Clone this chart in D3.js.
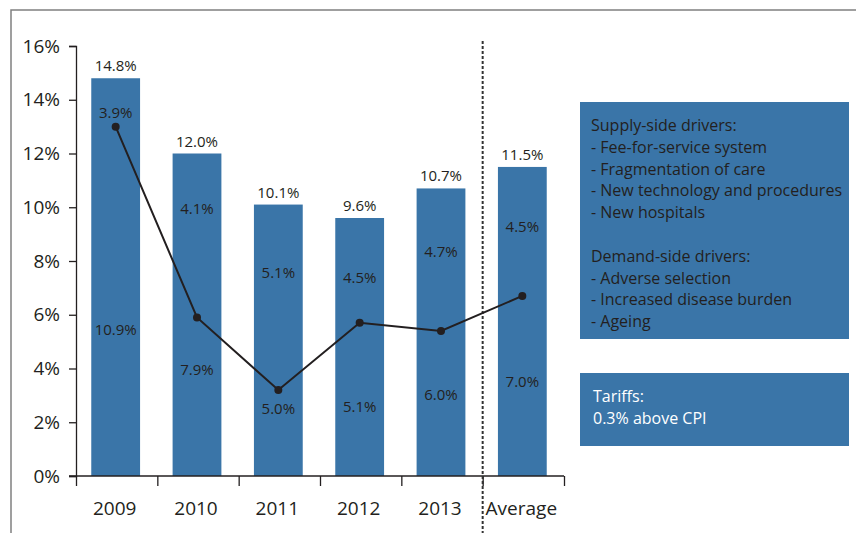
<!DOCTYPE html>
<html>
  <head>
    <meta charset="utf-8" />
    <style>
      body {
        margin: 0;
        background: #fff;
      }
      svg text {
        font-family: "Open Sans", sans-serif;
        fill: #231f20;
      }
    </style>
    <script src="https://d3js.org/d3.v7.min.js"></script>
  </head>
  <body>
    <div id="chart"></div>
    <script>
      // data
      var years = ["2009", "2010", "2011", "2012", "2013", "Average"];
      var baseValues = [10.9, 7.9, 5.0, 5.1, 6.0, 7.0];
      var topValues = [3.9, 4.1, 5.1, 4.5, 4.7, 4.5];
      var totals = [14.8, 12.0, 10.1, 9.6, 10.7, 11.5];
      var lineValues = [13.0, 5.9, 3.2, 5.7, 5.4, 6.7];
      var yTicks = [0, 2, 4, 6, 8, 10, 12, 14, 16];
      var supplyLines = [
        "Supply-side drivers:",
        "- Fee-for-service system",
        "- Fragmentation of care",
        "- New technology and procedures",
        "- New hospitals",
        "",
        "Demand-side drivers:",
        "- Adverse selection",
        "- Increased disease burden",
        "- Ageing",
      ];
      var tariffLines = ["Tariffs:", "0.3% above CPI"];

      var w = 856;
      var h = 533;
      var blue = "#3a75a8";
      var ink = "#231f20";

      var svg = d3
        .select("#chart")
        .append("svg")
        .attr("width", w)
        .attr("height", h);

      // frame lines (top + left)
      svg
        .append("path")
        .attr("d", "M11,533V10H856")
        .attr("fill", "none")
        .attr("stroke", "#808080")
        .attr("stroke-width", 1.5);

      var x = d3.scaleBand().domain(years).range([76, 564]).paddingInner(0.4).paddingOuter(0.2);
      var y = d3.scaleLinear().domain([0, 16]).range([476, 46]);
      var edges = d3.scaleLinear().domain([0, years.length]).range([76, 564]);

      // bars
      svg
        .selectAll("rect.bar")
        .data(years)
        .enter()
        .append("rect")
        .attr("class", "bar")
        .attr("x", function (d) { return x(d) - 1; })
        .attr("width", x.bandwidth())
        .attr("y", function (d, i) { return y(totals[i]); })
        .attr("height", function (d, i) { return y(0) - y(totals[i]); })
        .attr("fill", blue);

      // y axis
      var yAxis = svg
        .append("g")
        .attr("transform", "translate(76,0)")
        .call(
          d3.axisLeft(y)
            .tickValues(yTicks)
            .tickSize(7)
            .tickPadding(9)
            .tickFormat(function (d) { return d + "%"; })
        );
      yAxis.selectAll("path, line").attr("stroke", ink).attr("stroke-width", 1.3);
      yAxis.selectAll("text").attr("font-size", 19).attr("font-family", "Open Sans").attr("fill", ink);

      // x axis (ticks on the band edges)
      var xAxis = svg
        .append("g")
        .attr("transform", "translate(0,476)")
        .call(
          d3.axisBottom(edges)
            .tickValues(d3.range(years.length + 1))
            .tickSize(10)
            .tickSizeOuter(0)
            .tickFormat("")
        );
      xAxis.select(".domain").attr("d", "M69,0H564");
      xAxis.selectAll("path, line").attr("stroke", ink).attr("stroke-width", 1.3);

      svg
        .selectAll("text.cat")
        .data(years)
        .enter()
        .append("text")
        .attr("class", "cat")
        .attr("x", function (d, i) { return (edges(i) + edges(i + 1)) / 2 - 2; })
        .attr("y", 515)
        .attr("text-anchor", "middle")
        .attr("font-size", 19)
        .text(function (d) { return d; });

      // dotted divider before average
      svg
        .append("line")
        .attr("x1", edges(5))
        .attr("x2", edges(5))
        .attr("y1", 41)
        .attr("y2", 533)
        .attr("stroke", "#333")
        .attr("stroke-width", 2)
        .attr("stroke-dasharray", "3,2");

      // labels
      svg
        .selectAll("text.total")
        .data(years)
        .enter()
        .append("text")
        .attr("class", "total")
        .attr("x", function (d) { return x(d) - 1 + x.bandwidth() / 2; })
        .attr("y", function (d, i) { return y(totals[i]) - 7; })
        .attr("text-anchor", "middle")
        .attr("font-size", 15)
        .text(function (d, i) { return totals[i].toFixed(1) + "%"; });

      svg
        .selectAll("text.base")
        .data(years)
        .enter()
        .append("text")
        .attr("class", "base")
        .attr("x", function (d) { return x(d) - 1 + x.bandwidth() / 2; })
        .attr("y", function (d, i) { return y(baseValues[i] / 2) + 5; })
        .attr("text-anchor", "middle")
        .attr("font-size", 15)
        .text(function (d, i) { return baseValues[i].toFixed(1) + "%"; });

      svg
        .selectAll("text.top")
        .data(years)
        .enter()
        .append("text")
        .attr("class", "top")
        .attr("x", function (d) { return x(d) - 1 + x.bandwidth() / 2; })
        .attr("y", function (d, i) {
          var cy = y(baseValues[i] + topValues[i] / 2);
          var py = y(lineValues[i]);
          // move up if it sits on the line marker
          if (Math.abs(cy - py) < 12) cy = py - 14;
          return cy + 5;
        })
        .attr("text-anchor", "middle")
        .attr("font-size", 15)
        .text(function (d, i) { return topValues[i].toFixed(1) + "%"; });

      // line
      var line = d3
        .line()
        .x(function (d, i) { return x(years[i]) - 1 + x.bandwidth() / 2; })
        .y(function (d) { return y(d); });

      svg
        .append("path")
        .datum(lineValues)
        .attr("d", line)
        .attr("fill", "none")
        .attr("stroke", ink)
        .attr("stroke-width", 2);

      svg
        .selectAll("circle.pt")
        .data(lineValues)
        .enter()
        .append("circle")
        .attr("class", "pt")
        .attr("cx", function (d, i) { return x(years[i]) - 1 + x.bandwidth() / 2; })
        .attr("cy", function (d) { return y(d); })
        .attr("r", 4)
        .attr("fill", ink);

      // side boxes
      svg.append("rect").attr("x", 580).attr("y", 102).attr("width", 269).attr("height", 237).attr("fill", blue);
      svg
        .selectAll("text.supply")
        .data(supplyLines)
        .enter()
        .append("text")
        .attr("class", "supply")
        .attr("x", 591)
        .attr("y", function (d, i) { return 131 + i * 21.8; })
        .attr("font-size", 16)
        .text(function (d) { return d; });

      svg.append("rect").attr("x", 580).attr("y", 373).attr("width", 269).attr("height", 73).attr("fill", blue);
      svg
        .selectAll("text.tariff")
        .data(tariffLines)
        .enter()
        .append("text")
        .attr("class", "tariff")
        .attr("x", 593)
        .attr("y", function (d, i) { return 402 + i * 21.8; })
        .attr("font-size", 16)
        .style("fill", "#fff")
        .text(function (d) { return d; });
    </script>
  </body>
</html>
